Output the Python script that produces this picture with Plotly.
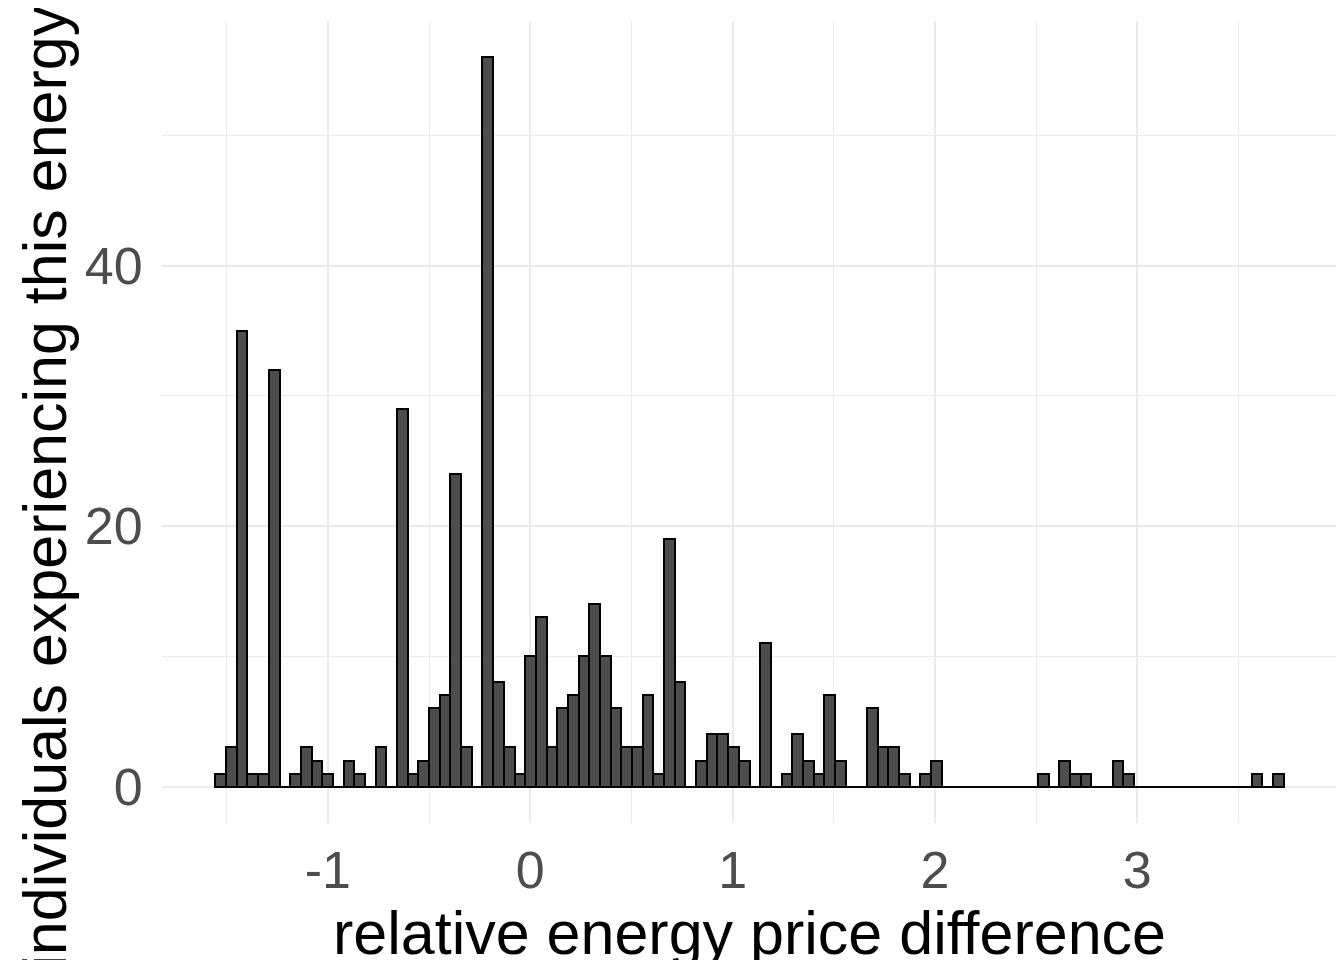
import plotly.graph_objects as go

bin_start = -1.556
bin_width = 0.05279
counts = [1, 3, 35, 1, 1, 32, 0, 1, 3, 2,
          1, 0, 2, 1, 0, 3, 0, 29, 1, 2,
          6, 7, 24, 3, 0, 56, 8, 3, 1, 10,
          13, 3, 6, 7, 10, 14, 10, 6, 3, 3,
          7, 1, 19, 8, 0, 2, 4, 4, 3, 2,
          0, 11, 0, 1, 4, 2, 1, 7, 2, 0,
          0, 6, 3, 3, 1, 0, 1, 2, 0, 0,
          0, 0, 0, 0, 0, 0, 0, 1, 0, 2,
          1, 1, 0, 0, 2, 1, 0, 0, 0, 0,
          0, 0, 0, 0, 0, 0, 0, 1, 0, 1]
x_ticks = [-1, 0, 1, 2, 3]
y_ticks = [0, 20, 40]
x_title = "relative energy price difference"
y_title = "Number of individuals experiencing this energy price difference"

centers = [bin_start + bin_width * (i + 0.5) for i in range(len(counts))]

fig = go.Figure(go.Bar(
    x=centers, y=counts, width=bin_width,
    marker=dict(color="#4d4d4d", line=dict(color="black", width=2)),
))

font = "Liberation Sans, Arial, sans-serif"
fig.update_layout(
    width=1344, height=960,
    margin=dict(l=154, r=15, t=13, b=145),
    plot_bgcolor="white", paper_bgcolor="white",
    showlegend=False, bargap=0,
    font=dict(family=font),
    xaxis=dict(range=[-1.82, 3.987], tickvals=x_ticks, ticktext=[str(v) for v in x_ticks],
               automargin=False,
               tickfont=dict(size=52, color="#4d4d4d"), gridcolor="#ebebeb", gridwidth=2,
               zeroline=False, showline=False, ticks="outside", ticklen=2, tickcolor="rgba(0,0,0,0)",
               minor=dict(dtick=0.5, tick0=0.5, showgrid=True, gridcolor="#ebebeb", gridwidth=1),
               title=dict(text=x_title, font=dict(size=61, color="black"), standoff=4)),
    yaxis=dict(range=[-2.8, 58.8], tickvals=y_ticks, ticktext=[str(v) for v in y_ticks],
               automargin=False,
               tickfont=dict(size=52, color="#4d4d4d"), gridcolor="#ebebeb", gridwidth=2,
               zeroline=False, showline=False, ticks="outside", ticklen=8, tickcolor="rgba(0,0,0,0)",
               minor=dict(dtick=10, tick0=10, showgrid=True, gridcolor="#ebebeb", gridwidth=1)),
    annotations=[dict(text=y_title, textangle=-90, xref="paper", yref="paper",
                      x=-0.1, y=0.5, xanchor="center", yanchor="middle", showarrow=False,
                      font=dict(size=61, color="black"))],
)
fig.write_html("out.html")
